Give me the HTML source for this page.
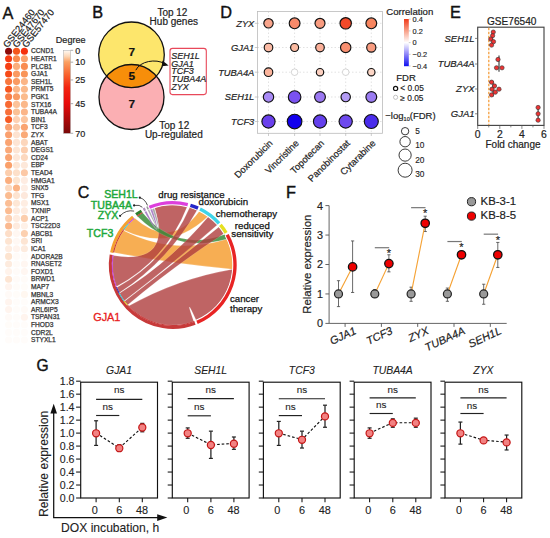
<!DOCTYPE html>
<html><head><meta charset="utf-8"><style>
html,body{margin:0;padding:0;background:#fff;}
svg{display:block;}
text{font-family:"Liberation Sans",sans-serif;}
</style></head><body>
<svg width="550" height="538" viewBox="0 0 550 538">
<rect width="550" height="538" fill="#fff"/>
<text x="2.60" y="18.60" font-size="16.3" fill="#111" stroke="#111" stroke-width="0.4">A</text>
<text x="92.30" y="18.30" font-size="16.3" fill="#111" stroke="#111" stroke-width="0.4">B</text>
<text x="220.20" y="18.10" font-size="16.3" fill="#111" stroke="#111" stroke-width="0.4">D</text>
<text x="450.10" y="18.20" font-size="16.3" fill="#111" stroke="#111" stroke-width="0.4">E</text>
<text x="77.70" y="198.10" font-size="16.0" fill="#111" stroke="#111" stroke-width="0.4">C</text>
<text x="286.10" y="197.80" font-size="16.3" fill="#111" stroke="#111" stroke-width="0.4">F</text>
<text x="36.60" y="371.30" font-size="15.6" fill="#111" stroke="#111" stroke-width="0.4">G</text>
<text transform="translate(7.40,48.20) rotate(-52)" font-size="9.3" fill="#222" stroke="#222" stroke-width="0.2">GSE24460</text>
<text transform="translate(17.00,48.20) rotate(-52)" font-size="9.3" fill="#222" stroke="#222" stroke-width="0.2">GSE47670</text>
<text transform="translate(26.60,48.20) rotate(-52)" font-size="9.3" fill="#222" stroke="#222" stroke-width="0.2">GSE57470</text>
<circle cx="8.6" cy="51.2" r="3.55" fill="#8b0a0a"/>
<circle cx="16.5" cy="51.2" r="3.55" fill="#f5561c"/>
<circle cx="24.4" cy="51.2" r="3.55" fill="#f5300e"/>
<text x="31.00" y="53.40" font-size="6.65" fill="#333" stroke="#333" stroke-width="0.25">CCND1</text>
<circle cx="8.6" cy="58.8" r="3.55" fill="#f63a12"/>
<circle cx="16.5" cy="58.8" r="3.55" fill="#f98a4e"/>
<circle cx="24.4" cy="58.8" r="3.55" fill="#fba26e"/>
<text x="31.00" y="61.00" font-size="6.65" fill="#333" stroke="#333" stroke-width="0.25">HEATR1</text>
<circle cx="8.6" cy="66.4" r="3.55" fill="#f63f14"/>
<circle cx="16.5" cy="66.4" r="3.55" fill="#fbae7c"/>
<circle cx="24.4" cy="66.4" r="3.55" fill="#f98c52"/>
<text x="31.00" y="68.60" font-size="6.65" fill="#333" stroke="#333" stroke-width="0.25">PLCB1</text>
<circle cx="8.6" cy="74.0" r="3.55" fill="#f64a18"/>
<circle cx="16.5" cy="74.0" r="3.55" fill="#fa9a62"/>
<circle cx="24.4" cy="74.0" r="3.55" fill="#f99458"/>
<text x="31.00" y="76.20" font-size="6.65" fill="#333" stroke="#333" stroke-width="0.25">GJA1</text>
<circle cx="8.6" cy="81.6" r="3.55" fill="#f8773e"/>
<circle cx="16.5" cy="81.6" r="3.55" fill="#fa9a62"/>
<circle cx="24.4" cy="81.6" r="3.55" fill="#fbb586"/>
<text x="31.00" y="83.80" font-size="6.65" fill="#333" stroke="#333" stroke-width="0.25">SEH1L</text>
<circle cx="8.6" cy="89.2" r="3.55" fill="#f6561f"/>
<circle cx="16.5" cy="89.2" r="3.55" fill="#fbb789"/>
<circle cx="24.4" cy="89.2" r="3.55" fill="#fbb98a"/>
<text x="31.00" y="91.40" font-size="6.65" fill="#333" stroke="#333" stroke-width="0.25">PRMT5</text>
<circle cx="8.6" cy="96.8" r="3.55" fill="#f87b45"/>
<circle cx="16.5" cy="96.8" r="3.55" fill="#f99c64"/>
<circle cx="24.4" cy="96.8" r="3.55" fill="#fbbb8c"/>
<text x="31.00" y="99.00" font-size="6.65" fill="#333" stroke="#333" stroke-width="0.25">PGK1</text>
<circle cx="8.6" cy="104.4" r="3.55" fill="#f86a33"/>
<circle cx="16.5" cy="104.4" r="3.55" fill="#fcc39a"/>
<circle cx="24.4" cy="104.4" r="3.55" fill="#fbb88a"/>
<text x="31.00" y="106.60" font-size="6.65" fill="#333" stroke="#333" stroke-width="0.25">STX16</text>
<circle cx="8.6" cy="112.0" r="3.55" fill="#f8703a"/>
<circle cx="16.5" cy="112.0" r="3.55" fill="#fbc195"/>
<circle cx="24.4" cy="112.0" r="3.55" fill="#fbb589"/>
<text x="31.00" y="114.20" font-size="6.65" fill="#333" stroke="#333" stroke-width="0.25">TUBA4A</text>
<circle cx="8.6" cy="119.6" r="3.55" fill="#f75a24"/>
<circle cx="16.5" cy="119.6" r="3.55" fill="#fdd2b4"/>
<circle cx="24.4" cy="119.6" r="3.55" fill="#fcc5a0"/>
<text x="31.00" y="121.80" font-size="6.65" fill="#333" stroke="#333" stroke-width="0.25">BIN1</text>
<circle cx="8.6" cy="127.2" r="3.55" fill="#faa070"/>
<circle cx="16.5" cy="127.2" r="3.55" fill="#fbcaa8"/>
<circle cx="24.4" cy="127.2" r="3.55" fill="#faa472"/>
<text x="31.00" y="129.40" font-size="6.65" fill="#333" stroke="#333" stroke-width="0.25">TCF3</text>
<circle cx="8.6" cy="134.8" r="3.55" fill="#faa06e"/>
<circle cx="16.5" cy="134.8" r="3.55" fill="#fde3d1"/>
<circle cx="24.4" cy="134.8" r="3.55" fill="#faaa79"/>
<text x="31.00" y="137.00" font-size="6.65" fill="#333" stroke="#333" stroke-width="0.25">ZYX</text>
<circle cx="8.6" cy="142.4" r="3.55" fill="#faa472"/>
<circle cx="16.5" cy="142.4" r="3.55" fill="#fde5d5"/>
<circle cx="24.4" cy="142.4" r="3.55" fill="#fcd6bc"/>
<text x="31.00" y="144.60" font-size="6.65" fill="#333" stroke="#333" stroke-width="0.25">ABAT</text>
<circle cx="8.6" cy="150.0" r="3.55" fill="#faa979"/>
<circle cx="16.5" cy="150.0" r="3.55" fill="#fde6d6"/>
<circle cx="24.4" cy="150.0" r="3.55" fill="#fcceaf"/>
<text x="31.00" y="152.20" font-size="6.65" fill="#333" stroke="#333" stroke-width="0.25">DEGS1</text>
<circle cx="8.6" cy="157.6" r="3.55" fill="#faa472"/>
<circle cx="16.5" cy="157.6" r="3.55" fill="#fde8da"/>
<circle cx="24.4" cy="157.6" r="3.55" fill="#fcd8bf"/>
<text x="31.00" y="159.80" font-size="6.65" fill="#333" stroke="#333" stroke-width="0.25">CD24</text>
<circle cx="8.6" cy="165.2" r="3.55" fill="#faa06a"/>
<circle cx="16.5" cy="165.2" r="3.55" fill="#fde6d5"/>
<circle cx="24.4" cy="165.2" r="3.55" fill="#fde8da"/>
<text x="31.00" y="167.40" font-size="6.65" fill="#333" stroke="#333" stroke-width="0.25">EBP</text>
<circle cx="8.6" cy="172.8" r="3.55" fill="#fccead"/>
<circle cx="16.5" cy="172.8" r="3.55" fill="#fde0ca"/>
<circle cx="24.4" cy="172.8" r="3.55" fill="#fcc8a6"/>
<text x="31.00" y="175.00" font-size="6.65" fill="#333" stroke="#333" stroke-width="0.25">TEAD4</text>
<circle cx="8.6" cy="180.4" r="3.55" fill="#fbae7e"/>
<circle cx="16.5" cy="180.4" r="3.55" fill="#fde5d1"/>
<circle cx="24.4" cy="180.4" r="3.55" fill="#feece2"/>
<text x="31.00" y="182.60" font-size="6.65" fill="#333" stroke="#333" stroke-width="0.25">HMGA1</text>
<circle cx="8.6" cy="188.0" r="3.55" fill="#fdd9bf"/>
<circle cx="16.5" cy="188.0" r="3.55" fill="#fbb486"/>
<circle cx="24.4" cy="188.0" r="3.55" fill="#feeee5"/>
<text x="31.00" y="190.20" font-size="6.65" fill="#333" stroke="#333" stroke-width="0.25">SNX5</text>
<circle cx="8.6" cy="195.6" r="3.55" fill="#fbbc91"/>
<circle cx="16.5" cy="195.6" r="3.55" fill="#fde4d1"/>
<circle cx="24.4" cy="195.6" r="3.55" fill="#fde8dc"/>
<text x="31.00" y="197.80" font-size="6.65" fill="#333" stroke="#333" stroke-width="0.25">TFG</text>
<circle cx="8.6" cy="203.2" r="3.55" fill="#fbbe95"/>
<circle cx="16.5" cy="203.2" r="3.55" fill="#fde7d6"/>
<circle cx="24.4" cy="203.2" r="3.55" fill="#feede2"/>
<text x="31.00" y="205.40" font-size="6.65" fill="#333" stroke="#333" stroke-width="0.25">MSX1</text>
<circle cx="8.6" cy="210.8" r="3.55" fill="#fbbc92"/>
<circle cx="16.5" cy="210.8" r="3.55" fill="#feece0"/>
<circle cx="24.4" cy="210.8" r="3.55" fill="#feece0"/>
<text x="31.00" y="213.00" font-size="6.65" fill="#333" stroke="#333" stroke-width="0.25">TXNIP</text>
<circle cx="8.6" cy="218.4" r="3.55" fill="#fccfb1"/>
<circle cx="16.5" cy="218.4" r="3.55" fill="#feece0"/>
<circle cx="24.4" cy="218.4" r="3.55" fill="#fccead"/>
<text x="31.00" y="220.60" font-size="6.65" fill="#333" stroke="#333" stroke-width="0.25">ACP1</text>
<circle cx="8.6" cy="226.0" r="3.55" fill="#fbba91"/>
<circle cx="16.5" cy="226.0" r="3.55" fill="#feebdf"/>
<circle cx="24.4" cy="226.0" r="3.55" fill="#fef1e8"/>
<text x="31.00" y="228.20" font-size="6.65" fill="#333" stroke="#333" stroke-width="0.25">TSC22D3</text>
<circle cx="8.6" cy="233.6" r="3.55" fill="#fddec8"/>
<circle cx="16.5" cy="233.6" r="3.55" fill="#fff7f2"/>
<circle cx="24.4" cy="233.6" r="3.55" fill="#fcd0b0"/>
<text x="31.00" y="235.80" font-size="6.65" fill="#333" stroke="#333" stroke-width="0.25">ABCB1</text>
<circle cx="8.6" cy="241.2" r="3.55" fill="#fde4d1"/>
<circle cx="16.5" cy="241.2" r="3.55" fill="#fff8f4"/>
<circle cx="24.4" cy="241.2" r="3.55" fill="#fde5d3"/>
<text x="31.00" y="243.40" font-size="6.65" fill="#333" stroke="#333" stroke-width="0.25">SRI</text>
<circle cx="8.6" cy="248.8" r="3.55" fill="#feede1"/>
<circle cx="16.5" cy="248.8" r="3.55" fill="#fff4ee"/>
<circle cx="24.4" cy="248.8" r="3.55" fill="#fdebde"/>
<text x="31.00" y="251.00" font-size="6.65" fill="#333" stroke="#333" stroke-width="0.25">ICA1</text>
<circle cx="8.6" cy="256.4" r="3.55" fill="#fde4d0"/>
<circle cx="16.5" cy="256.4" r="3.55" fill="#fffbf8"/>
<circle cx="24.4" cy="256.4" r="3.55" fill="#fffbf8"/>
<text x="31.00" y="258.60" font-size="6.65" fill="#333" stroke="#333" stroke-width="0.25">ADORA2B</text>
<circle cx="8.6" cy="264.0" r="3.55" fill="#fdebde"/>
<circle cx="16.5" cy="264.0" r="3.55" fill="#fffbf8"/>
<circle cx="24.4" cy="264.0" r="3.55" fill="#fff6f1"/>
<text x="31.00" y="266.20" font-size="6.65" fill="#333" stroke="#333" stroke-width="0.25">RNASET2</text>
<circle cx="8.6" cy="271.6" r="3.55" fill="#fff3eb"/>
<circle cx="16.5" cy="271.6" r="3.55" fill="#fffbf8"/>
<circle cx="24.4" cy="271.6" r="3.55" fill="#fff6f1"/>
<text x="31.00" y="273.80" font-size="6.65" fill="#333" stroke="#333" stroke-width="0.25">FOXD1</text>
<circle cx="8.6" cy="279.2" r="3.55" fill="#fde5d3"/>
<circle cx="16.5" cy="279.2" r="3.55" fill="#fffbf8"/>
<circle cx="24.4" cy="279.2" r="3.55" fill="#fffbf8"/>
<text x="31.00" y="281.40" font-size="6.65" fill="#333" stroke="#333" stroke-width="0.25">BRWD1</text>
<circle cx="8.6" cy="286.8" r="3.55" fill="#fff4ee"/>
<circle cx="16.5" cy="286.8" r="3.55" fill="#fffcf9"/>
<circle cx="24.4" cy="286.8" r="3.55" fill="#fffcf9"/>
<text x="31.00" y="289.00" font-size="6.65" fill="#333" stroke="#333" stroke-width="0.25">MAP7</text>
<circle cx="8.6" cy="294.4" r="3.55" fill="#fffaf7"/>
<circle cx="16.5" cy="294.4" r="3.55" fill="#fffcf9"/>
<circle cx="24.4" cy="294.4" r="3.55" fill="#fff7f0"/>
<text x="31.00" y="296.60" font-size="6.65" fill="#333" stroke="#333" stroke-width="0.25">MBNL3</text>
<circle cx="8.6" cy="302.0" r="3.55" fill="#fff4ee"/>
<circle cx="16.5" cy="302.0" r="3.55" fill="#fffcfa"/>
<circle cx="24.4" cy="302.0" r="3.55" fill="#fffcfa"/>
<text x="31.00" y="304.20" font-size="6.65" fill="#333" stroke="#333" stroke-width="0.25">ARMCX3</text>
<circle cx="8.6" cy="309.6" r="3.55" fill="#fff4ee"/>
<circle cx="16.5" cy="309.6" r="3.55" fill="#fffcfa"/>
<circle cx="24.4" cy="309.6" r="3.55" fill="#fffaf7"/>
<text x="31.00" y="311.80" font-size="6.65" fill="#333" stroke="#333" stroke-width="0.25">ARL6IP5</text>
<circle cx="8.6" cy="317.2" r="3.55" fill="#fffaf7"/>
<circle cx="16.5" cy="317.2" r="3.55" fill="#fffcfa"/>
<circle cx="24.4" cy="317.2" r="3.55" fill="#fff4ee"/>
<text x="31.00" y="319.40" font-size="6.65" fill="#333" stroke="#333" stroke-width="0.25">TSPAN31</text>
<circle cx="8.6" cy="324.8" r="3.55" fill="#fffcf9"/>
<circle cx="16.5" cy="324.8" r="3.55" fill="#fffcfa"/>
<circle cx="24.4" cy="324.8" r="3.55" fill="#fffcfa"/>
<text x="31.00" y="327.00" font-size="6.65" fill="#333" stroke="#333" stroke-width="0.25">FHOD3</text>
<circle cx="8.6" cy="332.4" r="3.55" fill="#fffcfa"/>
<circle cx="16.5" cy="332.4" r="3.55" fill="#fffcfa"/>
<circle cx="24.4" cy="332.4" r="3.55" fill="#fffcfa"/>
<text x="31.00" y="334.60" font-size="6.65" fill="#333" stroke="#333" stroke-width="0.25">CDR2L</text>
<circle cx="8.6" cy="340.0" r="3.55" fill="#fffcfa"/>
<circle cx="16.5" cy="340.0" r="3.55" fill="#fffcfa"/>
<circle cx="24.4" cy="340.0" r="3.55" fill="#fffcfa"/>
<text x="31.00" y="342.20" font-size="6.65" fill="#333" stroke="#333" stroke-width="0.25">STYXL1</text>
<defs><linearGradient id="gdeg" x1="0" y1="0" x2="0" y2="1"><stop offset="0" stop-color="#fffaf4"/><stop offset="0.07" stop-color="#fdd8b8"/><stop offset="0.14" stop-color="#fba062"/><stop offset="0.3" stop-color="#f8602c"/><stop offset="0.45" stop-color="#f22410"/><stop offset="0.64" stop-color="#e80a0a"/><stop offset="1" stop-color="#780808"/></linearGradient><linearGradient id="gcor" x1="0" y1="0" x2="0" y2="1"><stop offset="0" stop-color="#f03a1a"/><stop offset="0.25" stop-color="#f8a088"/><stop offset="0.5" stop-color="#ffffff"/><stop offset="0.75" stop-color="#8c84f8"/><stop offset="1" stop-color="#1010f0"/></linearGradient><clipPath id="ctop"><circle cx="131.5" cy="54.8" r="32.8"/></clipPath></defs>
<text x="55.80" y="43.10" font-size="9.1" fill="#222" stroke="#222" stroke-width="0.2">Degree</text>
<rect x="63.5" y="50.3" width="7" height="83" fill="url(#gdeg)" stroke="#aaa" stroke-width="0.5"/>
<line x1="70.50" y1="50.30" x2="73.20" y2="50.30" stroke="#888" stroke-width="0.7" />
<text x="75.30" y="53.50" font-size="9" fill="#222" stroke="#222" stroke-width="0.2">0</text>
<line x1="70.50" y1="62.16" x2="73.20" y2="62.16" stroke="#888" stroke-width="0.7" />
<text x="75.30" y="65.36" font-size="9" fill="#222" stroke="#222" stroke-width="0.2">10</text>
<line x1="70.50" y1="79.94" x2="73.20" y2="79.94" stroke="#888" stroke-width="0.7" />
<text x="75.30" y="83.14" font-size="9" fill="#222" stroke="#222" stroke-width="0.2">25</text>
<line x1="70.50" y1="103.66" x2="73.20" y2="103.66" stroke="#888" stroke-width="0.7" />
<text x="75.30" y="106.86" font-size="9" fill="#222" stroke="#222" stroke-width="0.2">45</text>
<line x1="70.50" y1="133.30" x2="73.20" y2="133.30" stroke="#888" stroke-width="0.7" />
<text x="75.30" y="136.50" font-size="9" fill="#222" stroke="#222" stroke-width="0.2">70</text>
<circle cx="131.5" cy="54.8" r="32.8" fill="#fde66c"/>
<circle cx="131.5" cy="97" r="32.5" fill="#fbafb3"/>
<circle cx="131.5" cy="97" r="32.5" fill="#f78e0a" clip-path="url(#ctop)"/>
<circle cx="131.5" cy="54.8" r="32.8" fill="none" stroke="#111" stroke-width="1.3"/>
<circle cx="131.5" cy="97" r="32.5" fill="none" stroke="#111" stroke-width="1.3"/>
<text x="131.80" y="55.90" font-size="11.8" fill="#111" stroke="#111" stroke-width="0.2" text-anchor="middle" font-weight="bold">7</text>
<text x="131.80" y="80.20" font-size="11.8" fill="#111" stroke="#111" stroke-width="0.2" text-anchor="middle" font-weight="bold">5</text>
<text x="131.80" y="108.40" font-size="11.8" fill="#111" stroke="#111" stroke-width="0.2" text-anchor="middle" font-weight="bold">7</text>
<text x="172.40" y="15.70" font-size="10.0" fill="#222" stroke="#222" stroke-width="0.2" text-anchor="middle">Top 12</text>
<text x="173.80" y="24.75" font-size="10.0" fill="#222" stroke="#222" stroke-width="0.2" text-anchor="middle">Hub genes</text>
<text x="174.20" y="129.00" font-size="10.0" fill="#222" stroke="#222" stroke-width="0.2" text-anchor="middle">Top 12</text>
<text x="173.80" y="137.60" font-size="10.0" fill="#222" stroke="#222" stroke-width="0.2" text-anchor="middle">Up-regulated</text>
<rect x="170" y="48.4" width="36.3" height="46.2" rx="2.5" fill="#fff" stroke="#e8485a" stroke-width="1.1"/>
<text x="171.30" y="58.60" font-size="9.0" fill="#222" stroke="#222" stroke-width="0.2" font-style="italic">SEH1L</text>
<text x="171.30" y="66.50" font-size="9.0" fill="#222" stroke="#222" stroke-width="0.2" font-style="italic">GJA1</text>
<text x="171.30" y="74.40" font-size="9.0" fill="#222" stroke="#222" stroke-width="0.2" font-style="italic">TCF3</text>
<text x="171.30" y="82.30" font-size="9.0" fill="#222" stroke="#222" stroke-width="0.2" font-style="italic">TUBA4A</text>
<text x="171.30" y="90.20" font-size="9.0" fill="#222" stroke="#222" stroke-width="0.2" font-style="italic">ZYX</text>
<path d="M135.8 70.2 C 140 61, 156 58.5, 164.5 63.6" fill="none" stroke="#111" stroke-width="1.0"/>
<path d="M168.6 65.6 L162.4 60.6 L161.8 66.2 Z" fill="#111"/>
<line x1="268.50" y1="11.50" x2="268.50" y2="133.30" stroke="#cfcfcf" stroke-width="0.6" stroke-dasharray="1.5,2"/>
<line x1="294.60" y1="11.50" x2="294.60" y2="133.30" stroke="#cfcfcf" stroke-width="0.6" stroke-dasharray="1.5,2"/>
<line x1="320.00" y1="11.50" x2="320.00" y2="133.30" stroke="#cfcfcf" stroke-width="0.6" stroke-dasharray="1.5,2"/>
<line x1="345.70" y1="11.50" x2="345.70" y2="133.30" stroke="#cfcfcf" stroke-width="0.6" stroke-dasharray="1.5,2"/>
<line x1="371.30" y1="11.50" x2="371.30" y2="133.30" stroke="#cfcfcf" stroke-width="0.6" stroke-dasharray="1.5,2"/>
<line x1="257.50" y1="23.30" x2="382.40" y2="23.30" stroke="#cfcfcf" stroke-width="0.6" stroke-dasharray="1.5,2"/>
<line x1="257.50" y1="47.50" x2="382.40" y2="47.50" stroke="#cfcfcf" stroke-width="0.6" stroke-dasharray="1.5,2"/>
<line x1="257.50" y1="72.20" x2="382.40" y2="72.20" stroke="#cfcfcf" stroke-width="0.6" stroke-dasharray="1.5,2"/>
<line x1="257.50" y1="97.00" x2="382.40" y2="97.00" stroke="#cfcfcf" stroke-width="0.6" stroke-dasharray="1.5,2"/>
<line x1="257.50" y1="121.50" x2="382.40" y2="121.50" stroke="#cfcfcf" stroke-width="0.6" stroke-dasharray="1.5,2"/>
<rect x="257.5" y="11.5" width="124.9" height="121.8" fill="none" stroke="#bbb" stroke-width="0.8"/>
<line x1="254.80" y1="23.30" x2="257.50" y2="23.30" stroke="#aaa" stroke-width="0.6" />
<text x="254.30" y="26.60" font-size="9.3" fill="#222" stroke="#222" stroke-width="0.2" text-anchor="end" font-style="italic">ZYX</text>
<line x1="254.80" y1="47.50" x2="257.50" y2="47.50" stroke="#aaa" stroke-width="0.6" />
<text x="254.30" y="50.80" font-size="9.3" fill="#222" stroke="#222" stroke-width="0.2" text-anchor="end" font-style="italic">GJA1</text>
<line x1="254.80" y1="72.20" x2="257.50" y2="72.20" stroke="#aaa" stroke-width="0.6" />
<text x="254.30" y="75.50" font-size="9.3" fill="#222" stroke="#222" stroke-width="0.2" text-anchor="end" font-style="italic">TUBA4A</text>
<line x1="254.80" y1="97.00" x2="257.50" y2="97.00" stroke="#aaa" stroke-width="0.6" />
<text x="254.30" y="100.30" font-size="9.3" fill="#222" stroke="#222" stroke-width="0.2" text-anchor="end" font-style="italic">SEH1L</text>
<line x1="254.80" y1="121.50" x2="257.50" y2="121.50" stroke="#aaa" stroke-width="0.6" />
<text x="254.30" y="124.80" font-size="9.3" fill="#222" stroke="#222" stroke-width="0.2" text-anchor="end" font-style="italic">TCF3</text>
<circle cx="268.5" cy="23.3" r="4.7" fill="#f9a58c" stroke="#111" stroke-width="1.15"/>
<circle cx="294.6" cy="23.3" r="5.4" fill="#f88a6a" stroke="#111" stroke-width="1.15"/>
<circle cx="320" cy="23.3" r="5.0" fill="#f99c80" stroke="#111" stroke-width="1.15"/>
<circle cx="345.7" cy="23.3" r="5.7" fill="#f24a2a" stroke="#111" stroke-width="1.15"/>
<circle cx="371.3" cy="23.3" r="5.4" fill="#f7855f" stroke="#111" stroke-width="1.15"/>
<circle cx="268.5" cy="47.5" r="4.3" fill="#fbbba5" stroke="#111" stroke-width="1.15"/>
<circle cx="294.6" cy="47.5" r="4.0" fill="#fbbaa0" stroke="#111" stroke-width="1.15"/>
<circle cx="320" cy="47.5" r="4.3" fill="#fbb099" stroke="#111" stroke-width="1.15"/>
<circle cx="345.7" cy="47.5" r="5.2" fill="#f88f70" stroke="#111" stroke-width="1.15"/>
<circle cx="371.3" cy="47.5" r="4.6" fill="#f99c80" stroke="#111" stroke-width="1.15"/>
<circle cx="268.5" cy="72.2" r="4.3" fill="#fbb49c" stroke="#111" stroke-width="1.15"/>
<circle cx="294.6" cy="72.2" r="3.3" fill="#fff" stroke="#ccc" stroke-width="0.8"/>
<circle cx="320" cy="72.2" r="3.7" fill="#fcd0c0" stroke="#111" stroke-width="1.15"/>
<circle cx="345.7" cy="72.2" r="3.3" fill="#fff" stroke="#ccc" stroke-width="0.8"/>
<circle cx="371.3" cy="72.2" r="3.7" fill="#fcd6c6" stroke="#111" stroke-width="1.15"/>
<circle cx="268.5" cy="97" r="5.2" fill="#a88af5" stroke="#111" stroke-width="1.15"/>
<circle cx="294.6" cy="97" r="6.3" fill="#7a52f0" stroke="#111" stroke-width="1.15"/>
<circle cx="320" cy="97" r="5.4" fill="#9b78f2" stroke="#111" stroke-width="1.15"/>
<circle cx="345.7" cy="97" r="4.7" fill="#b49cf5" stroke="#111" stroke-width="1.15"/>
<circle cx="371.3" cy="97" r="5.4" fill="#9b7cf2" stroke="#111" stroke-width="1.15"/>
<circle cx="268.5" cy="121.5" r="6.6" fill="#6a40ec" stroke="#111" stroke-width="1.15"/>
<circle cx="294.6" cy="121.5" r="7.3" fill="#1200ee" stroke="#111" stroke-width="1.15"/>
<circle cx="320" cy="121.5" r="6.6" fill="#6440ec" stroke="#111" stroke-width="1.15"/>
<circle cx="345.7" cy="121.5" r="6.6" fill="#6e4aee" stroke="#111" stroke-width="1.15"/>
<circle cx="371.3" cy="121.5" r="7.0" fill="#4a2cec" stroke="#111" stroke-width="1.15"/>
<line x1="268.50" y1="133.30" x2="268.50" y2="136.00" stroke="#aaa" stroke-width="0.6" />
<text transform="translate(273.30,143.80) rotate(-45)" font-size="9.4" fill="#222" stroke="#222" stroke-width="0.2" text-anchor="end">Doxorubicin</text>
<line x1="294.60" y1="133.30" x2="294.60" y2="136.00" stroke="#aaa" stroke-width="0.6" />
<text transform="translate(299.40,143.80) rotate(-45)" font-size="9.4" fill="#222" stroke="#222" stroke-width="0.2" text-anchor="end">Vincristine</text>
<line x1="320.00" y1="133.30" x2="320.00" y2="136.00" stroke="#aaa" stroke-width="0.6" />
<text transform="translate(324.80,143.80) rotate(-45)" font-size="9.4" fill="#222" stroke="#222" stroke-width="0.2" text-anchor="end">Topotecan</text>
<line x1="345.70" y1="133.30" x2="345.70" y2="136.00" stroke="#aaa" stroke-width="0.6" />
<text transform="translate(350.50,143.80) rotate(-45)" font-size="9.4" fill="#222" stroke="#222" stroke-width="0.2" text-anchor="end">Panobinostat</text>
<line x1="371.30" y1="133.30" x2="371.30" y2="136.00" stroke="#aaa" stroke-width="0.6" />
<text transform="translate(376.10,143.80) rotate(-45)" font-size="9.4" fill="#222" stroke="#222" stroke-width="0.2" text-anchor="end">Cytarabine</text>
<text x="386.30" y="14.90" font-size="9.6" fill="#222" stroke="#222" stroke-width="0.2">Correlation</text>
<rect x="404" y="19" width="4.8" height="47.2" fill="url(#gcor)"/>
<line x1="408.80" y1="19.20" x2="410.60" y2="19.20" stroke="#999" stroke-width="0.5" />
<text x="412.60" y="21.80" font-size="7.4" fill="#222" stroke="#222" stroke-width="0.15">0.4</text>
<line x1="408.80" y1="30.90" x2="410.60" y2="30.90" stroke="#999" stroke-width="0.5" />
<text x="412.60" y="33.50" font-size="7.4" fill="#222" stroke="#222" stroke-width="0.15">0.2</text>
<line x1="408.80" y1="42.60" x2="410.60" y2="42.60" stroke="#999" stroke-width="0.5" />
<text x="412.60" y="45.20" font-size="7.4" fill="#222" stroke="#222" stroke-width="0.15">0</text>
<line x1="408.80" y1="54.30" x2="410.60" y2="54.30" stroke="#999" stroke-width="0.5" />
<text x="412.60" y="56.90" font-size="7.4" fill="#222" stroke="#222" stroke-width="0.15">−0.2</text>
<line x1="408.80" y1="66.00" x2="410.60" y2="66.00" stroke="#999" stroke-width="0.5" />
<text x="412.60" y="68.60" font-size="7.4" fill="#222" stroke="#222" stroke-width="0.15">−0.4</text>
<text x="396.30" y="80.90" font-size="9.5" fill="#222" stroke="#222" stroke-width="0.2">FDR</text>
<circle cx="395.6" cy="88.4" r="2.1" fill="none" stroke="#111" stroke-width="1.2"/>
<text x="400.30" y="91.30" font-size="8.4" fill="#222" stroke="#222" stroke-width="0.15">&lt; 0.05</text>
<circle cx="395.6" cy="97.3" r="2.1" fill="none" stroke="#aaa" stroke-width="0.7"/>
<text x="400.30" y="100.60" font-size="8.4" fill="#222" stroke="#222" stroke-width="0.15">≥ 0.05</text>
<text x="385.30" y="119.00" font-size="9.5" fill="#222" stroke="#222" stroke-width="0.2">−log<tspan font-size="5.6" dy="2">10</tspan><tspan dy="-2">(FDR)</tspan></text>
<circle cx="405.1" cy="131.2" r="3.7" fill="none" stroke="#222" stroke-width="0.9"/>
<circle cx="405.1" cy="141.7" r="5.2" fill="none" stroke="#222" stroke-width="0.9"/>
<circle cx="405.1" cy="155.1" r="6.1" fill="none" stroke="#222" stroke-width="0.9"/>
<circle cx="405.1" cy="170.2" r="7.0" fill="none" stroke="#222" stroke-width="0.9"/>
<text x="415.20" y="133.60" font-size="8.3" fill="#222" stroke="#222" stroke-width="0.12">5</text>
<text x="415.20" y="147.60" font-size="8.3" fill="#222" stroke="#222" stroke-width="0.12">10</text>
<text x="415.20" y="162.60" font-size="8.3" fill="#222" stroke="#222" stroke-width="0.12">20</text>
<text x="415.20" y="176.50" font-size="8.3" fill="#222" stroke="#222" stroke-width="0.12">30</text>
<text x="511.70" y="25.30" font-size="10.1" fill="#222" stroke="#222" stroke-width="0.2" text-anchor="middle">GSE76540</text>
<rect x="477.7" y="27.2" width="66.3" height="98.2" fill="none" stroke="#444" stroke-width="1.15"/>
<line x1="488.80" y1="27.80" x2="488.80" y2="125.00" stroke="#f5a040" stroke-width="1.3" stroke-dasharray="2.4,1.6"/>
<line x1="475.00" y1="38.40" x2="477.70" y2="38.40" stroke="#555" stroke-width="0.7" />
<text x="474.60" y="41.80" font-size="9.5" fill="#222" stroke="#222" stroke-width="0.2" text-anchor="end" font-style="italic">SEH1L</text>
<line x1="475.00" y1="64.00" x2="477.70" y2="64.00" stroke="#555" stroke-width="0.7" />
<text x="474.60" y="67.40" font-size="9.5" fill="#222" stroke="#222" stroke-width="0.2" text-anchor="end" font-style="italic">TUBA4A</text>
<line x1="475.00" y1="89.00" x2="477.70" y2="89.00" stroke="#555" stroke-width="0.7" />
<text x="474.60" y="92.40" font-size="9.5" fill="#222" stroke="#222" stroke-width="0.2" text-anchor="end" font-style="italic">ZYX</text>
<line x1="475.00" y1="113.80" x2="477.70" y2="113.80" stroke="#555" stroke-width="0.7" />
<text x="474.60" y="117.20" font-size="9.5" fill="#222" stroke="#222" stroke-width="0.2" text-anchor="end" font-style="italic">GJA1</text>
<line x1="477.70" y1="125.40" x2="477.70" y2="128.90" stroke="#555" stroke-width="0.7" />
<text x="477.70" y="137.60" font-size="10.4" fill="#222" stroke="#222" stroke-width="0.2" text-anchor="middle">0</text>
<line x1="488.75" y1="125.40" x2="488.75" y2="127.40" stroke="#555" stroke-width="0.7" />
<line x1="499.80" y1="125.40" x2="499.80" y2="128.90" stroke="#555" stroke-width="0.7" />
<text x="499.80" y="137.60" font-size="10.4" fill="#222" stroke="#222" stroke-width="0.2" text-anchor="middle">2</text>
<line x1="510.85" y1="125.40" x2="510.85" y2="127.40" stroke="#555" stroke-width="0.7" />
<line x1="521.90" y1="125.40" x2="521.90" y2="128.90" stroke="#555" stroke-width="0.7" />
<text x="521.90" y="137.60" font-size="10.4" fill="#222" stroke="#222" stroke-width="0.2" text-anchor="middle">4</text>
<line x1="532.95" y1="125.40" x2="532.95" y2="127.40" stroke="#555" stroke-width="0.7" />
<line x1="544.00" y1="125.40" x2="544.00" y2="128.90" stroke="#555" stroke-width="0.7" />
<text x="544.00" y="137.60" font-size="10.4" fill="#222" stroke="#222" stroke-width="0.2" text-anchor="middle">6</text>
<text x="513.00" y="148.00" font-size="10.0" fill="#222" stroke="#222" stroke-width="0.2" text-anchor="middle">Fold change</text>
<line x1="492.30" y1="31.00" x2="492.30" y2="46.00" stroke="#333" stroke-width="1.1" />
<circle cx="493.3" cy="32.1" r="2.15" fill="#ec3434" stroke="#333" stroke-width="0.6"/>
<circle cx="492.6" cy="35.7" r="2.15" fill="#ec3434" stroke="#333" stroke-width="0.6"/>
<circle cx="490.8" cy="39.1" r="2.15" fill="#ec3434" stroke="#333" stroke-width="0.6"/>
<circle cx="493.5" cy="41.7" r="2.15" fill="#ec3434" stroke="#333" stroke-width="0.6"/>
<circle cx="491.6" cy="45.1" r="2.15" fill="#ec3434" stroke="#333" stroke-width="0.6"/>
<line x1="499.00" y1="55.50" x2="499.00" y2="71.80" stroke="#333" stroke-width="1.1" />
<circle cx="498" cy="59.5" r="2.15" fill="#ec3434" stroke="#333" stroke-width="0.6"/>
<circle cx="496.5" cy="67.8" r="2.15" fill="#ec3434" stroke="#333" stroke-width="0.6"/>
<circle cx="502" cy="67.8" r="2.15" fill="#ec3434" stroke="#333" stroke-width="0.6"/>
<line x1="493.00" y1="81.00" x2="493.00" y2="96.40" stroke="#333" stroke-width="1.1" />
<circle cx="491.6" cy="82.2" r="2.15" fill="#ec3434" stroke="#333" stroke-width="0.6"/>
<circle cx="494.5" cy="86" r="2.15" fill="#ec3434" stroke="#333" stroke-width="0.6"/>
<circle cx="492" cy="89.2" r="2.15" fill="#ec3434" stroke="#333" stroke-width="0.6"/>
<circle cx="499" cy="89.2" r="2.15" fill="#ec3434" stroke="#333" stroke-width="0.6"/>
<circle cx="495.3" cy="92.2" r="2.15" fill="#ec3434" stroke="#333" stroke-width="0.6"/>
<circle cx="491.6" cy="94.9" r="2.15" fill="#ec3434" stroke="#333" stroke-width="0.6"/>
<line x1="538.10" y1="107.00" x2="538.10" y2="120.50" stroke="#333" stroke-width="1.1" />
<circle cx="538.1" cy="107.5" r="2.15" fill="#ec3434" stroke="#333" stroke-width="0.6"/>
<circle cx="538.1" cy="113.8" r="2.15" fill="#ec3434" stroke="#333" stroke-width="0.6"/>
<circle cx="538.1" cy="120.2" r="2.15" fill="#ec3434" stroke="#333" stroke-width="0.6"/>
<path d="M113.82 252.48 A60.2 60.2 0 0 1 123.39 230.47 Q173.45 255.93 227.04 239.08 A60.2 60.2 0 0 1 232.75 269.20 Q172.88 263.75 113.82 252.48 Z" fill="#f6a33c" opacity="0.88" stroke="#fff" stroke-width="0.3" stroke-opacity="0.55"/>
<path d="M123.69 230.04 A60.2 60.2 0 0 1 134.81 218.22 Q171.05 249.90 199.56 211.12 A60.2 60.2 0 0 1 208.08 216.30 Q170.66 252.45 123.69 230.04 Z" fill="#f6a33c" opacity="0.88" stroke="#fff" stroke-width="0.3" stroke-opacity="0.55"/>
<path d="M193.78 321.39 A60.2 60.2 0 0 1 128.67 306.06 Q177.51 278.58 232.75 269.20 A60.2 60.2 0 0 1 196.22 320.41 Q183.85 292.95 193.78 321.39 Z" fill="#b03e3e" opacity="0.8" stroke="#fff" stroke-width="0.3" stroke-opacity="0.55"/>
<path d="M116.50 286.57 A60.2 60.2 0 0 1 113.24 255.58 Q172.70 265.00 154.60 207.59 A60.2 60.2 0 0 1 187.26 206.59 Q166.45 259.47 116.50 286.57 Z" fill="#b03e3e" opacity="0.8" stroke="#fff" stroke-width="0.3" stroke-opacity="0.55"/>
<path d="M137.32 216.30 A60.2 60.2 0 0 1 142.60 212.87 Q175.97 252.60 224.57 234.45 A60.2 60.2 0 0 1 227.04 239.08 Q175.54 253.81 137.32 216.30 Z" fill="#3b8e3b" opacity="0.85" stroke="#fff" stroke-width="0.3" stroke-opacity="0.55"/>
<path d="M144.44 211.85 A60.2 60.2 0 0 1 146.31 210.89 Q165.36 248.51 150.15 209.18 A60.2 60.2 0 0 1 152.11 208.43 Q165.37 248.54 144.44 211.85 Z" fill="#a070c0" opacity="0.88" stroke="#fff" stroke-width="0.3" stroke-opacity="0.55"/>
<path d="M147.74 210.22 A60.2 60.2 0 0 1 149.18 209.59 Q166.08 248.20 152.11 208.43 A60.2 60.2 0 0 1 154.10 207.75 Q166.16 248.20 147.74 210.22 Z" fill="#a0a0a0" opacity="0.88" stroke="#fff" stroke-width="0.3" stroke-opacity="0.55"/>
<path d="M127.61 304.89 A60.2 60.2 0 0 1 124.62 301.23 Q172.46 264.69 219.15 226.71 A60.2 60.2 0 0 1 224.03 233.55 Q173.64 266.27 127.61 304.89 Z" fill="#b03e3e" opacity="0.8" stroke="#fff" stroke-width="0.3" stroke-opacity="0.55"/>
<path d="M124.31 300.81 A60.2 60.2 0 0 1 119.55 293.26 Q170.10 261.98 208.51 216.61 A60.2 60.2 0 0 1 217.44 224.72 Q172.15 264.33 124.31 300.81 Z" fill="#b03e3e" opacity="0.8" stroke="#fff" stroke-width="0.3" stroke-opacity="0.55"/>
<path d="M119.30 292.80 A60.2 60.2 0 0 1 116.88 287.55 Q166.89 259.72 189.80 207.28 A60.2 60.2 0 0 1 197.19 210.00 Q168.36 260.92 119.30 292.80 Z" fill="#b03e3e" opacity="0.8" stroke="#fff" stroke-width="0.3" stroke-opacity="0.55"/>
<path d="M150.00 208.81 A60.6 60.6 0 0 1 187.36 206.20 L187.12 207.17 A59.6 59.6 0 0 0 150.37 209.74 Z" fill="#fff" opacity="1"/>
<path d="M148.73 205.66 A64.0 64.0 0 0 1 188.18 202.90 L187.36 206.20 A60.6 60.6 0 0 0 150.00 208.81 Z" fill="#dd3fdd" opacity="1"/>
<path d="M189.91 206.90 A60.6 60.6 0 0 1 197.35 209.64 L196.94 210.55 A59.6 59.6 0 0 0 189.63 207.85 Z" fill="#fff" opacity="1"/>
<path d="M190.88 203.64 A64.0 64.0 0 0 1 198.73 206.53 L197.35 209.64 A60.6 60.6 0 0 0 189.91 206.90 Z" fill="#2424c8" opacity="1"/>
<path d="M199.27 210.53 A60.6 60.6 0 0 1 217.73 224.45 L216.99 225.12 A59.6 59.6 0 0 0 198.83 211.43 Z" fill="#fff" opacity="1"/>
<path d="M200.76 207.48 A64.0 64.0 0 0 1 220.26 222.18 L217.73 224.45 A60.6 60.6 0 0 0 199.27 210.53 Z" fill="#3fd4e8" opacity="1"/>
<path d="M219.12 226.05 A60.6 60.6 0 0 1 224.64 233.79 L223.79 234.30 A59.6 59.6 0 0 0 218.36 226.69 Z" fill="#fff" opacity="1"/>
<path d="M221.73 223.86 A64.0 64.0 0 0 1 227.56 232.04 L224.64 233.79 A60.6 60.6 0 0 0 219.12 226.05 Z" fill="#e6e020" opacity="1"/>
<path d="M225.70 235.62 A60.6 60.6 0 0 1 196.38 320.78 L195.99 319.86 A59.6 59.6 0 0 0 224.83 236.11 Z" fill="#fff" opacity="1"/>
<path d="M228.68 233.97 A64.0 64.0 0 0 1 197.71 323.91 L196.38 320.78 A60.6 60.6 0 0 0 225.70 235.62 Z" fill="#e82424" opacity="1"/>
<path d="M195.60 324.66 A63.9 63.9 0 0 1 109.68 254.45 L112.73 254.97 A60.8 60.8 0 0 0 194.49 321.76 Z" fill="#c73a3a" opacity="1"/>
<path d="M110.08 252.26 A63.9 63.9 0 0 1 132.05 215.69 L134.03 218.09 A60.8 60.8 0 0 0 113.12 252.88 Z" fill="#f5a030" opacity="1"/>
<path d="M135.14 213.30 A63.9 63.9 0 0 1 140.75 209.66 L142.30 212.35 A60.8 60.8 0 0 0 136.96 215.81 Z" fill="#2e7d2e" opacity="1"/>
<path d="M142.70 208.58 A63.9 63.9 0 0 1 144.69 207.57 L146.05 210.35 A60.8 60.8 0 0 0 144.16 211.32 Z" fill="#b090c0" opacity="1"/>
<path d="M146.20 206.85 A63.9 63.9 0 0 1 147.73 206.18 L148.94 209.03 A60.8 60.8 0 0 0 147.49 209.67 Z" fill="#999" opacity="1"/>
<path d="M194.56 321.95 A61.0 61.0 0 0 1 127.01 305.42 L127.76 304.76 A60.0 60.0 0 0 0 194.20 321.01 Z" fill="#c73a3a" opacity="1"/>
<path d="M115.75 286.86 A61.0 61.0 0 0 1 112.54 254.93 L113.52 255.10 A60.0 60.0 0 0 0 116.69 286.50 Z" fill="#c040d8" opacity="1"/>
<path d="M118.59 293.17 A61.0 61.0 0 0 1 115.94 287.36 L116.87 286.99 A60.0 60.0 0 0 0 119.48 292.70 Z" fill="#2a2ac0" opacity="1"/>
<path d="M123.66 301.28 A61.0 61.0 0 0 1 118.59 293.17 L119.48 292.70 A60.0 60.0 0 0 0 124.47 300.69 Z" fill="#30c0d0" opacity="1"/>
<path d="M127.01 305.42 A61.0 61.0 0 0 1 123.66 301.28 L124.47 300.69 A60.0 60.0 0 0 0 127.76 304.76 Z" fill="#d8d020" opacity="1"/>
<path d="M113.03 252.32 A61.0 61.0 0 0 1 123.35 229.15 L124.16 229.73 A60.0 60.0 0 0 0 114.01 252.53 Z" fill="#c83030" opacity="1"/>
<path d="M123.35 229.15 A61.0 61.0 0 0 1 128.09 223.40 L128.82 224.08 A60.0 60.0 0 0 0 124.16 229.73 Z" fill="#30c0d0" opacity="1"/>
<path d="M128.09 223.40 A61.0 61.0 0 0 1 133.90 217.93 L134.54 218.70 A60.0 60.0 0 0 0 128.82 224.08 Z" fill="#c040d8" opacity="1"/>
<path d="M136.85 215.65 A61.0 61.0 0 0 1 142.20 212.17 L142.70 213.04 A60.0 60.0 0 0 0 137.43 216.46 Z" fill="#c83030" opacity="1"/>
<text x="104.20" y="198.00" font-size="10.6" fill="#1ca83a" stroke="#1ca83a" stroke-width="0.45">SEH1L</text>
<text x="90.80" y="208.50" font-size="10.6" fill="#1ca83a" stroke="#1ca83a" stroke-width="0.45">TUBA4A</text>
<text x="97.80" y="219.40" font-size="10.6" fill="#1ca83a" stroke="#1ca83a" stroke-width="0.45">ZYX</text>
<text x="86.80" y="237.40" font-size="10.6" fill="#1ca83a" stroke="#1ca83a" stroke-width="0.45">TCF3</text>
<text x="93.20" y="320.60" font-size="10.9" fill="#e82020" stroke="#e82020" stroke-width="0.3">GJA1</text>
<path d="M139.8 197.7 Q145 199 147.5 205.4" fill="none" stroke="#222" stroke-width="0.8"/>
<circle cx="139.8" cy="197.7" r="1.1" fill="#222"/>
<path d="M134.1 205.4 Q140 204.5 142.4 207.3" fill="none" stroke="#222" stroke-width="0.8"/>
<circle cx="134.1" cy="205.4" r="1.1" fill="#222"/>
<path d="M120.1 215.8 Q126 209.5 134.1 211.1" fill="none" stroke="#222" stroke-width="0.8"/>
<circle cx="120.1" cy="215.8" r="1.1" fill="#222"/>
<text x="158.30" y="197.70" font-size="9.7" fill="#111" stroke="#111" stroke-width="0.25">drug resistance</text>
<text x="198.50" y="204.80" font-size="9.7" fill="#111" stroke="#111" stroke-width="0.25">doxorubicin</text>
<text x="215.70" y="217.00" font-size="9.7" fill="#111" stroke="#111" stroke-width="0.25">chemotherapy</text>
<text x="230.00" y="302.40" font-size="9.7" fill="#111" stroke="#111" stroke-width="0.25">cancer</text>
<text x="230.00" y="311.80" font-size="9.7" fill="#111" stroke="#111" stroke-width="0.25">therapy</text>
<text x="252.30" y="228.60" font-size="9.7" fill="#111" stroke="#111" stroke-width="0.25" text-anchor="middle">reduced</text>
<text x="252.30" y="236.60" font-size="9.7" fill="#111" stroke="#111" stroke-width="0.25" text-anchor="middle">sensitivity</text>
<line x1="329.10" y1="205.60" x2="329.10" y2="323.40" stroke="#555" stroke-width="0.9" />
<line x1="329.10" y1="323.40" x2="506.70" y2="323.40" stroke="#555" stroke-width="0.9" />
<line x1="325.40" y1="323.40" x2="329.10" y2="323.40" stroke="#555" stroke-width="0.9" />
<text x="323.00" y="327.30" font-size="10.8" fill="#222" stroke="#222" stroke-width="0.18" text-anchor="end">0</text>
<line x1="325.40" y1="293.95" x2="329.10" y2="293.95" stroke="#555" stroke-width="0.9" />
<text x="323.00" y="297.85" font-size="10.8" fill="#222" stroke="#222" stroke-width="0.18" text-anchor="end">1</text>
<line x1="325.40" y1="264.50" x2="329.10" y2="264.50" stroke="#555" stroke-width="0.9" />
<text x="323.00" y="268.40" font-size="10.8" fill="#222" stroke="#222" stroke-width="0.18" text-anchor="end">2</text>
<line x1="325.40" y1="235.05" x2="329.10" y2="235.05" stroke="#555" stroke-width="0.9" />
<text x="323.00" y="238.95" font-size="10.8" fill="#222" stroke="#222" stroke-width="0.18" text-anchor="end">3</text>
<line x1="325.40" y1="205.60" x2="329.10" y2="205.60" stroke="#555" stroke-width="0.9" />
<text x="323.00" y="209.50" font-size="10.8" fill="#222" stroke="#222" stroke-width="0.18" text-anchor="end">4</text>
<text transform="translate(311.00,264.20) rotate(-90)" font-size="11.35" fill="#222" stroke="#222" stroke-width="0.18" text-anchor="middle">Relative expression</text>
<line x1="345.10" y1="323.40" x2="345.10" y2="326.90" stroke="#555" stroke-width="0.9" />
<line x1="338.50" y1="280.70" x2="338.50" y2="306.61" stroke="#444" stroke-width="0.8" />
<line x1="336.90" y1="306.61" x2="340.10" y2="306.61" stroke="#444" stroke-width="0.8" />
<line x1="336.90" y1="280.70" x2="340.10" y2="280.70" stroke="#444" stroke-width="0.8" />
<line x1="352.60" y1="240.94" x2="352.60" y2="292.48" stroke="#444" stroke-width="0.8" />
<line x1="351.00" y1="292.48" x2="354.20" y2="292.48" stroke="#444" stroke-width="0.8" />
<line x1="351.00" y1="240.94" x2="354.20" y2="240.94" stroke="#444" stroke-width="0.8" />
<line x1="338.50" y1="293.95" x2="352.60" y2="266.86" stroke="#f5a030" stroke-width="1.1" />
<circle cx="338.5" cy="293.9" r="4.0" fill="#999" stroke="#222" stroke-width="1.2"/>
<circle cx="352.6" cy="266.9" r="4.2" fill="#ee0000" stroke="#111" stroke-width="1.3"/>
<text transform="translate(357.00,333.30) rotate(-25)" font-size="11" fill="#222" stroke="#222" stroke-width="0.18" text-anchor="end" font-style="italic">GJA1</text>
<line x1="381.40" y1="323.40" x2="381.40" y2="326.90" stroke="#555" stroke-width="0.9" />
<line x1="374.80" y1="289.53" x2="374.80" y2="297.48" stroke="#444" stroke-width="0.8" />
<line x1="373.20" y1="297.48" x2="376.40" y2="297.48" stroke="#444" stroke-width="0.8" />
<line x1="373.20" y1="289.53" x2="376.40" y2="289.53" stroke="#444" stroke-width="0.8" />
<line x1="388.90" y1="254.78" x2="388.90" y2="271.86" stroke="#444" stroke-width="0.8" />
<line x1="387.30" y1="271.86" x2="390.50" y2="271.86" stroke="#444" stroke-width="0.8" />
<line x1="387.30" y1="254.78" x2="390.50" y2="254.78" stroke="#444" stroke-width="0.8" />
<line x1="374.80" y1="293.95" x2="388.90" y2="263.62" stroke="#f5a030" stroke-width="1.1" />
<circle cx="374.8" cy="293.9" r="4.0" fill="#999" stroke="#222" stroke-width="1.2"/>
<circle cx="388.9" cy="263.6" r="4.2" fill="#ee0000" stroke="#111" stroke-width="1.3"/>
<line x1="374.80" y1="247.71" x2="389.20" y2="247.71" stroke="#777" stroke-width="1.2" />
<text x="388.90" y="257.21" font-size="11" fill="#222" stroke="#222" stroke-width="0.18" text-anchor="middle">*</text>
<text transform="translate(393.30,333.30) rotate(-25)" font-size="11" fill="#222" stroke="#222" stroke-width="0.18" text-anchor="end" font-style="italic">TCF3</text>
<line x1="417.70" y1="323.40" x2="417.70" y2="326.90" stroke="#555" stroke-width="0.9" />
<line x1="411.10" y1="287.18" x2="411.10" y2="301.31" stroke="#444" stroke-width="0.8" />
<line x1="409.50" y1="301.31" x2="412.70" y2="301.31" stroke="#444" stroke-width="0.8" />
<line x1="409.50" y1="287.18" x2="412.70" y2="287.18" stroke="#444" stroke-width="0.8" />
<line x1="425.20" y1="216.20" x2="425.20" y2="231.52" stroke="#444" stroke-width="0.8" />
<line x1="423.60" y1="231.52" x2="426.80" y2="231.52" stroke="#444" stroke-width="0.8" />
<line x1="423.60" y1="216.20" x2="426.80" y2="216.20" stroke="#444" stroke-width="0.8" />
<line x1="411.10" y1="293.95" x2="425.20" y2="223.27" stroke="#f5a030" stroke-width="1.1" />
<circle cx="411.1" cy="293.9" r="4.0" fill="#999" stroke="#222" stroke-width="1.2"/>
<circle cx="425.2" cy="223.3" r="4.2" fill="#ee0000" stroke="#111" stroke-width="1.3"/>
<line x1="411.10" y1="207.66" x2="425.50" y2="207.66" stroke="#777" stroke-width="1.2" />
<text x="425.20" y="217.16" font-size="11" fill="#222" stroke="#222" stroke-width="0.18" text-anchor="middle">*</text>
<text transform="translate(429.60,333.30) rotate(-25)" font-size="11" fill="#222" stroke="#222" stroke-width="0.18" text-anchor="end" font-style="italic">ZYX</text>
<line x1="454.00" y1="323.40" x2="454.00" y2="326.90" stroke="#555" stroke-width="0.9" />
<line x1="447.40" y1="288.06" x2="447.40" y2="301.31" stroke="#444" stroke-width="0.8" />
<line x1="445.80" y1="301.31" x2="449.00" y2="301.31" stroke="#444" stroke-width="0.8" />
<line x1="445.80" y1="288.06" x2="449.00" y2="288.06" stroke="#444" stroke-width="0.8" />
<line x1="461.50" y1="251.84" x2="461.50" y2="257.73" stroke="#444" stroke-width="0.8" />
<line x1="459.90" y1="257.73" x2="463.10" y2="257.73" stroke="#444" stroke-width="0.8" />
<line x1="459.90" y1="251.84" x2="463.10" y2="251.84" stroke="#444" stroke-width="0.8" />
<line x1="447.40" y1="293.95" x2="461.50" y2="254.78" stroke="#f5a030" stroke-width="1.1" />
<circle cx="447.4" cy="293.9" r="4.0" fill="#999" stroke="#222" stroke-width="1.2"/>
<circle cx="461.5" cy="254.8" r="4.2" fill="#ee0000" stroke="#111" stroke-width="1.3"/>
<line x1="447.40" y1="241.53" x2="461.80" y2="241.53" stroke="#777" stroke-width="1.2" />
<text x="461.50" y="251.03" font-size="11" fill="#222" stroke="#222" stroke-width="0.18" text-anchor="middle">*</text>
<text transform="translate(465.90,333.30) rotate(-25)" font-size="11" fill="#222" stroke="#222" stroke-width="0.18" text-anchor="end" font-style="italic">TUBA4A</text>
<line x1="490.30" y1="323.40" x2="490.30" y2="326.90" stroke="#555" stroke-width="0.9" />
<line x1="483.70" y1="284.23" x2="483.70" y2="304.26" stroke="#444" stroke-width="0.8" />
<line x1="482.10" y1="304.26" x2="485.30" y2="304.26" stroke="#444" stroke-width="0.8" />
<line x1="482.10" y1="284.23" x2="485.30" y2="284.23" stroke="#444" stroke-width="0.8" />
<line x1="497.80" y1="242.41" x2="497.80" y2="267.44" stroke="#444" stroke-width="0.8" />
<line x1="496.20" y1="267.44" x2="499.40" y2="267.44" stroke="#444" stroke-width="0.8" />
<line x1="496.20" y1="242.41" x2="499.40" y2="242.41" stroke="#444" stroke-width="0.8" />
<line x1="483.70" y1="293.95" x2="497.80" y2="254.78" stroke="#f5a030" stroke-width="1.1" />
<circle cx="483.7" cy="293.9" r="4.0" fill="#999" stroke="#222" stroke-width="1.2"/>
<circle cx="497.8" cy="254.8" r="4.2" fill="#ee0000" stroke="#111" stroke-width="1.3"/>
<line x1="483.70" y1="234.17" x2="498.10" y2="234.17" stroke="#777" stroke-width="1.2" />
<text x="497.80" y="243.67" font-size="11" fill="#222" stroke="#222" stroke-width="0.18" text-anchor="middle">*</text>
<text transform="translate(502.20,333.30) rotate(-25)" font-size="11" fill="#222" stroke="#222" stroke-width="0.18" text-anchor="end" font-style="italic">SEH1L</text>
<circle cx="471.5" cy="201.7" r="4.1" fill="#999" stroke="#222" stroke-width="1"/>
<circle cx="471.5" cy="216.1" r="4.1" fill="#ee0000" stroke="#222" stroke-width="1"/>
<text x="480.60" y="205.20" font-size="11.4" fill="#222" stroke="#222" stroke-width="0.18">KB-3-1</text>
<text x="480.60" y="219.40" font-size="11.4" fill="#222" stroke="#222" stroke-width="0.18">KB-8-5</text>
<rect x="80.7" y="382.2" width="76.8" height="115.8" fill="none" stroke="#111" stroke-width="1.15"/>
<line x1="76.10" y1="498.00" x2="80.70" y2="498.00" stroke="#111" stroke-width="1.05" />
<line x1="76.10" y1="485.02" x2="80.70" y2="485.02" stroke="#111" stroke-width="1.05" />
<line x1="76.10" y1="472.04" x2="80.70" y2="472.04" stroke="#111" stroke-width="1.05" />
<line x1="76.10" y1="459.06" x2="80.70" y2="459.06" stroke="#111" stroke-width="1.05" />
<line x1="76.10" y1="446.08" x2="80.70" y2="446.08" stroke="#111" stroke-width="1.05" />
<line x1="76.10" y1="433.10" x2="80.70" y2="433.10" stroke="#111" stroke-width="1.05" />
<line x1="76.10" y1="420.12" x2="80.70" y2="420.12" stroke="#111" stroke-width="1.05" />
<line x1="76.10" y1="407.14" x2="80.70" y2="407.14" stroke="#111" stroke-width="1.05" />
<line x1="76.10" y1="394.16" x2="80.70" y2="394.16" stroke="#111" stroke-width="1.05" />
<line x1="76.10" y1="381.18" x2="80.70" y2="381.18" stroke="#111" stroke-width="1.05" />
<line x1="96.10" y1="498.00" x2="96.10" y2="502.20" stroke="#111" stroke-width="1.05" />
<text x="94.70" y="514.00" font-size="10.9" fill="#222" stroke="#222" stroke-width="0.1" text-anchor="middle">0</text>
<line x1="119.30" y1="498.00" x2="119.30" y2="502.20" stroke="#111" stroke-width="1.05" />
<text x="119.30" y="514.00" font-size="10.9" fill="#222" stroke="#222" stroke-width="0.1" text-anchor="middle">6</text>
<line x1="142.30" y1="498.00" x2="142.30" y2="502.20" stroke="#111" stroke-width="1.05" />
<text x="142.00" y="514.00" font-size="10.9" fill="#222" stroke="#222" stroke-width="0.1" text-anchor="middle">48</text>
<text x="119.10" y="373.80" font-size="10.4" fill="#222" stroke="#222" stroke-width="0.1" text-anchor="middle" font-style="italic">GJA1</text>
<line x1="96.10" y1="399.30" x2="142.30" y2="399.30" stroke="#222" stroke-width="1.15" />
<text x="119.20" y="393.40" font-size="9.9" fill="#222" stroke="#222" stroke-width="0.1" text-anchor="middle">ns</text>
<line x1="96.10" y1="415.50" x2="119.30" y2="415.50" stroke="#222" stroke-width="1.15" />
<text x="107.70" y="410.10" font-size="9.9" fill="#222" stroke="#222" stroke-width="0.1" text-anchor="middle">ns</text>
<path d="M96.1 433.1 L119.3 448.0 L142.3 427.3" fill="none" stroke="#111" stroke-width="1.15" stroke-dasharray="2.6,2"/>
<line x1="96.10" y1="420.77" x2="96.10" y2="445.43" stroke="#222" stroke-width="1.25" />
<line x1="94.10" y1="445.43" x2="98.10" y2="445.43" stroke="#222" stroke-width="1.2" />
<line x1="94.10" y1="420.77" x2="98.10" y2="420.77" stroke="#222" stroke-width="1.2" />
<circle cx="96.1" cy="433.3" r="3.55" fill="#f28282" stroke="#c41616" stroke-width="1.2"/>
<line x1="119.30" y1="444.78" x2="119.30" y2="451.27" stroke="#222" stroke-width="1.25" />
<line x1="117.30" y1="451.27" x2="121.30" y2="451.27" stroke="#222" stroke-width="1.2" />
<line x1="117.30" y1="444.78" x2="121.30" y2="444.78" stroke="#222" stroke-width="1.2" />
<circle cx="119.3" cy="448.2" r="3.55" fill="#f28282" stroke="#c41616" stroke-width="1.2"/>
<line x1="142.30" y1="423.37" x2="142.30" y2="431.80" stroke="#222" stroke-width="1.25" />
<line x1="140.30" y1="431.80" x2="144.30" y2="431.80" stroke="#222" stroke-width="1.2" />
<line x1="140.30" y1="423.37" x2="144.30" y2="423.37" stroke="#222" stroke-width="1.2" />
<circle cx="142.3" cy="427.5" r="3.55" fill="#f28282" stroke="#c41616" stroke-width="1.2"/>
<rect x="172.3" y="382.2" width="76.8" height="115.8" fill="none" stroke="#111" stroke-width="1.15"/>
<line x1="167.70" y1="498.00" x2="172.30" y2="498.00" stroke="#111" stroke-width="1.05" />
<line x1="167.70" y1="485.02" x2="172.30" y2="485.02" stroke="#111" stroke-width="1.05" />
<line x1="167.70" y1="472.04" x2="172.30" y2="472.04" stroke="#111" stroke-width="1.05" />
<line x1="167.70" y1="459.06" x2="172.30" y2="459.06" stroke="#111" stroke-width="1.05" />
<line x1="167.70" y1="446.08" x2="172.30" y2="446.08" stroke="#111" stroke-width="1.05" />
<line x1="167.70" y1="433.10" x2="172.30" y2="433.10" stroke="#111" stroke-width="1.05" />
<line x1="167.70" y1="420.12" x2="172.30" y2="420.12" stroke="#111" stroke-width="1.05" />
<line x1="167.70" y1="407.14" x2="172.30" y2="407.14" stroke="#111" stroke-width="1.05" />
<line x1="167.70" y1="394.16" x2="172.30" y2="394.16" stroke="#111" stroke-width="1.05" />
<line x1="167.70" y1="381.18" x2="172.30" y2="381.18" stroke="#111" stroke-width="1.05" />
<line x1="187.70" y1="498.00" x2="187.70" y2="502.20" stroke="#111" stroke-width="1.05" />
<text x="186.30" y="514.00" font-size="10.9" fill="#222" stroke="#222" stroke-width="0.1" text-anchor="middle">0</text>
<line x1="210.90" y1="498.00" x2="210.90" y2="502.20" stroke="#111" stroke-width="1.05" />
<text x="210.90" y="514.00" font-size="10.9" fill="#222" stroke="#222" stroke-width="0.1" text-anchor="middle">6</text>
<line x1="233.90" y1="498.00" x2="233.90" y2="502.20" stroke="#111" stroke-width="1.05" />
<text x="233.60" y="514.00" font-size="10.9" fill="#222" stroke="#222" stroke-width="0.1" text-anchor="middle">48</text>
<text x="210.70" y="373.80" font-size="10.4" fill="#222" stroke="#222" stroke-width="0.1" text-anchor="middle" font-style="italic">SEH1L</text>
<line x1="187.70" y1="398.60" x2="233.90" y2="398.60" stroke="#222" stroke-width="1.15" />
<text x="210.80" y="392.70" font-size="9.9" fill="#222" stroke="#222" stroke-width="0.1" text-anchor="middle">ns</text>
<line x1="187.70" y1="415.80" x2="210.90" y2="415.80" stroke="#222" stroke-width="1.15" />
<text x="199.30" y="410.00" font-size="9.9" fill="#222" stroke="#222" stroke-width="0.1" text-anchor="middle">ns</text>
<path d="M187.7 433.1 L210.9 444.8 L233.9 443.5" fill="none" stroke="#111" stroke-width="1.15" stroke-dasharray="2.6,2"/>
<line x1="187.70" y1="427.91" x2="187.70" y2="438.29" stroke="#222" stroke-width="1.25" />
<line x1="185.70" y1="438.29" x2="189.70" y2="438.29" stroke="#222" stroke-width="1.2" />
<line x1="185.70" y1="427.91" x2="189.70" y2="427.91" stroke="#222" stroke-width="1.2" />
<circle cx="187.7" cy="433.3" r="3.55" fill="#f28282" stroke="#c41616" stroke-width="1.2"/>
<line x1="210.90" y1="431.15" x2="210.90" y2="458.41" stroke="#222" stroke-width="1.25" />
<line x1="208.90" y1="458.41" x2="212.90" y2="458.41" stroke="#222" stroke-width="1.2" />
<line x1="208.90" y1="431.15" x2="212.90" y2="431.15" stroke="#222" stroke-width="1.2" />
<circle cx="210.9" cy="445.0" r="3.55" fill="#f28282" stroke="#c41616" stroke-width="1.2"/>
<line x1="233.90" y1="436.99" x2="233.90" y2="449.32" stroke="#222" stroke-width="1.25" />
<line x1="231.90" y1="449.32" x2="235.90" y2="449.32" stroke="#222" stroke-width="1.2" />
<line x1="231.90" y1="436.99" x2="235.90" y2="436.99" stroke="#222" stroke-width="1.2" />
<circle cx="233.9" cy="443.7" r="3.55" fill="#f28282" stroke="#c41616" stroke-width="1.2"/>
<rect x="263.4" y="382.2" width="76.8" height="115.8" fill="none" stroke="#111" stroke-width="1.15"/>
<line x1="258.80" y1="498.00" x2="263.40" y2="498.00" stroke="#111" stroke-width="1.05" />
<line x1="258.80" y1="485.02" x2="263.40" y2="485.02" stroke="#111" stroke-width="1.05" />
<line x1="258.80" y1="472.04" x2="263.40" y2="472.04" stroke="#111" stroke-width="1.05" />
<line x1="258.80" y1="459.06" x2="263.40" y2="459.06" stroke="#111" stroke-width="1.05" />
<line x1="258.80" y1="446.08" x2="263.40" y2="446.08" stroke="#111" stroke-width="1.05" />
<line x1="258.80" y1="433.10" x2="263.40" y2="433.10" stroke="#111" stroke-width="1.05" />
<line x1="258.80" y1="420.12" x2="263.40" y2="420.12" stroke="#111" stroke-width="1.05" />
<line x1="258.80" y1="407.14" x2="263.40" y2="407.14" stroke="#111" stroke-width="1.05" />
<line x1="258.80" y1="394.16" x2="263.40" y2="394.16" stroke="#111" stroke-width="1.05" />
<line x1="258.80" y1="381.18" x2="263.40" y2="381.18" stroke="#111" stroke-width="1.05" />
<line x1="278.80" y1="498.00" x2="278.80" y2="502.20" stroke="#111" stroke-width="1.05" />
<text x="277.40" y="514.00" font-size="10.9" fill="#222" stroke="#222" stroke-width="0.1" text-anchor="middle">0</text>
<line x1="302.00" y1="498.00" x2="302.00" y2="502.20" stroke="#111" stroke-width="1.05" />
<text x="302.00" y="514.00" font-size="10.9" fill="#222" stroke="#222" stroke-width="0.1" text-anchor="middle">6</text>
<line x1="325.00" y1="498.00" x2="325.00" y2="502.20" stroke="#111" stroke-width="1.05" />
<text x="324.70" y="514.00" font-size="10.9" fill="#222" stroke="#222" stroke-width="0.1" text-anchor="middle">48</text>
<text x="301.80" y="373.80" font-size="10.4" fill="#222" stroke="#222" stroke-width="0.1" text-anchor="middle" font-style="italic">TCF3</text>
<line x1="278.80" y1="398.70" x2="325.00" y2="398.70" stroke="#222" stroke-width="1.15" />
<text x="301.90" y="393.30" font-size="9.9" fill="#222" stroke="#222" stroke-width="0.1" text-anchor="middle">ns</text>
<line x1="278.80" y1="415.60" x2="302.00" y2="415.60" stroke="#222" stroke-width="1.15" />
<text x="290.40" y="410.00" font-size="9.9" fill="#222" stroke="#222" stroke-width="0.1" text-anchor="middle">ns</text>
<path d="M278.8 433.1 L302.0 439.6 L325.0 416.2" fill="none" stroke="#111" stroke-width="1.15" stroke-dasharray="2.6,2"/>
<line x1="278.80" y1="421.42" x2="278.80" y2="445.43" stroke="#222" stroke-width="1.25" />
<line x1="276.80" y1="445.43" x2="280.80" y2="445.43" stroke="#222" stroke-width="1.2" />
<line x1="276.80" y1="421.42" x2="280.80" y2="421.42" stroke="#222" stroke-width="1.2" />
<circle cx="278.8" cy="433.3" r="3.55" fill="#f28282" stroke="#c41616" stroke-width="1.2"/>
<line x1="302.00" y1="431.15" x2="302.00" y2="448.03" stroke="#222" stroke-width="1.25" />
<line x1="300.00" y1="448.03" x2="304.00" y2="448.03" stroke="#222" stroke-width="1.2" />
<line x1="300.00" y1="431.15" x2="304.00" y2="431.15" stroke="#222" stroke-width="1.2" />
<circle cx="302.0" cy="439.8" r="3.55" fill="#f28282" stroke="#c41616" stroke-width="1.2"/>
<line x1="325.00" y1="405.19" x2="325.00" y2="427.26" stroke="#222" stroke-width="1.25" />
<line x1="323.00" y1="427.26" x2="327.00" y2="427.26" stroke="#222" stroke-width="1.2" />
<line x1="323.00" y1="405.19" x2="327.00" y2="405.19" stroke="#222" stroke-width="1.2" />
<circle cx="325.0" cy="416.4" r="3.55" fill="#f28282" stroke="#c41616" stroke-width="1.2"/>
<rect x="354.2" y="382.2" width="76.8" height="115.8" fill="none" stroke="#111" stroke-width="1.15"/>
<line x1="349.60" y1="498.00" x2="354.20" y2="498.00" stroke="#111" stroke-width="1.05" />
<line x1="349.60" y1="485.02" x2="354.20" y2="485.02" stroke="#111" stroke-width="1.05" />
<line x1="349.60" y1="472.04" x2="354.20" y2="472.04" stroke="#111" stroke-width="1.05" />
<line x1="349.60" y1="459.06" x2="354.20" y2="459.06" stroke="#111" stroke-width="1.05" />
<line x1="349.60" y1="446.08" x2="354.20" y2="446.08" stroke="#111" stroke-width="1.05" />
<line x1="349.60" y1="433.10" x2="354.20" y2="433.10" stroke="#111" stroke-width="1.05" />
<line x1="349.60" y1="420.12" x2="354.20" y2="420.12" stroke="#111" stroke-width="1.05" />
<line x1="349.60" y1="407.14" x2="354.20" y2="407.14" stroke="#111" stroke-width="1.05" />
<line x1="349.60" y1="394.16" x2="354.20" y2="394.16" stroke="#111" stroke-width="1.05" />
<line x1="349.60" y1="381.18" x2="354.20" y2="381.18" stroke="#111" stroke-width="1.05" />
<line x1="369.60" y1="498.00" x2="369.60" y2="502.20" stroke="#111" stroke-width="1.05" />
<text x="368.20" y="514.00" font-size="10.9" fill="#222" stroke="#222" stroke-width="0.1" text-anchor="middle">0</text>
<line x1="392.80" y1="498.00" x2="392.80" y2="502.20" stroke="#111" stroke-width="1.05" />
<text x="392.80" y="514.00" font-size="10.9" fill="#222" stroke="#222" stroke-width="0.1" text-anchor="middle">6</text>
<line x1="415.80" y1="498.00" x2="415.80" y2="502.20" stroke="#111" stroke-width="1.05" />
<text x="415.50" y="514.00" font-size="10.9" fill="#222" stroke="#222" stroke-width="0.1" text-anchor="middle">48</text>
<text x="392.60" y="373.80" font-size="10.4" fill="#222" stroke="#222" stroke-width="0.1" text-anchor="middle" font-style="italic">TUBA4A</text>
<line x1="369.60" y1="397.80" x2="415.80" y2="397.80" stroke="#222" stroke-width="1.15" />
<text x="392.70" y="392.50" font-size="9.9" fill="#222" stroke="#222" stroke-width="0.1" text-anchor="middle">ns</text>
<line x1="369.60" y1="413.50" x2="392.80" y2="413.50" stroke="#222" stroke-width="1.15" />
<text x="381.20" y="408.30" font-size="9.9" fill="#222" stroke="#222" stroke-width="0.1" text-anchor="middle">ns</text>
<path d="M369.6 433.1 L392.8 422.7 L415.8 422.7" fill="none" stroke="#111" stroke-width="1.15" stroke-dasharray="2.6,2"/>
<line x1="369.60" y1="427.91" x2="369.60" y2="438.29" stroke="#222" stroke-width="1.25" />
<line x1="367.60" y1="438.29" x2="371.60" y2="438.29" stroke="#222" stroke-width="1.2" />
<line x1="367.60" y1="427.91" x2="371.60" y2="427.91" stroke="#222" stroke-width="1.2" />
<circle cx="369.6" cy="433.3" r="3.55" fill="#f28282" stroke="#c41616" stroke-width="1.2"/>
<line x1="392.80" y1="418.82" x2="392.80" y2="427.26" stroke="#222" stroke-width="1.25" />
<line x1="390.80" y1="427.26" x2="394.80" y2="427.26" stroke="#222" stroke-width="1.2" />
<line x1="390.80" y1="418.82" x2="394.80" y2="418.82" stroke="#222" stroke-width="1.2" />
<circle cx="392.8" cy="422.9" r="3.55" fill="#f28282" stroke="#c41616" stroke-width="1.2"/>
<line x1="415.80" y1="418.17" x2="415.80" y2="427.26" stroke="#222" stroke-width="1.25" />
<line x1="413.80" y1="427.26" x2="417.80" y2="427.26" stroke="#222" stroke-width="1.2" />
<line x1="413.80" y1="418.17" x2="417.80" y2="418.17" stroke="#222" stroke-width="1.2" />
<circle cx="415.8" cy="422.9" r="3.55" fill="#f28282" stroke="#c41616" stroke-width="1.2"/>
<rect x="445.0" y="382.2" width="76.8" height="115.8" fill="none" stroke="#111" stroke-width="1.15"/>
<line x1="440.40" y1="498.00" x2="445.00" y2="498.00" stroke="#111" stroke-width="1.05" />
<line x1="440.40" y1="485.02" x2="445.00" y2="485.02" stroke="#111" stroke-width="1.05" />
<line x1="440.40" y1="472.04" x2="445.00" y2="472.04" stroke="#111" stroke-width="1.05" />
<line x1="440.40" y1="459.06" x2="445.00" y2="459.06" stroke="#111" stroke-width="1.05" />
<line x1="440.40" y1="446.08" x2="445.00" y2="446.08" stroke="#111" stroke-width="1.05" />
<line x1="440.40" y1="433.10" x2="445.00" y2="433.10" stroke="#111" stroke-width="1.05" />
<line x1="440.40" y1="420.12" x2="445.00" y2="420.12" stroke="#111" stroke-width="1.05" />
<line x1="440.40" y1="407.14" x2="445.00" y2="407.14" stroke="#111" stroke-width="1.05" />
<line x1="440.40" y1="394.16" x2="445.00" y2="394.16" stroke="#111" stroke-width="1.05" />
<line x1="440.40" y1="381.18" x2="445.00" y2="381.18" stroke="#111" stroke-width="1.05" />
<line x1="460.40" y1="498.00" x2="460.40" y2="502.20" stroke="#111" stroke-width="1.05" />
<text x="459.00" y="514.00" font-size="10.9" fill="#222" stroke="#222" stroke-width="0.1" text-anchor="middle">0</text>
<line x1="483.60" y1="498.00" x2="483.60" y2="502.20" stroke="#111" stroke-width="1.05" />
<text x="483.60" y="514.00" font-size="10.9" fill="#222" stroke="#222" stroke-width="0.1" text-anchor="middle">6</text>
<line x1="506.60" y1="498.00" x2="506.60" y2="502.20" stroke="#111" stroke-width="1.05" />
<text x="506.30" y="514.00" font-size="10.9" fill="#222" stroke="#222" stroke-width="0.1" text-anchor="middle">48</text>
<text x="483.40" y="373.80" font-size="10.4" fill="#222" stroke="#222" stroke-width="0.1" text-anchor="middle" font-style="italic">ZYX</text>
<line x1="460.40" y1="397.80" x2="506.60" y2="397.80" stroke="#222" stroke-width="1.15" />
<text x="483.50" y="392.70" font-size="9.9" fill="#222" stroke="#222" stroke-width="0.1" text-anchor="middle">ns</text>
<line x1="460.40" y1="413.50" x2="483.60" y2="413.50" stroke="#222" stroke-width="1.15" />
<text x="472.00" y="408.50" font-size="9.9" fill="#222" stroke="#222" stroke-width="0.1" text-anchor="middle">ns</text>
<path d="M460.4 433.1 L483.6 440.2 L506.6 442.2" fill="none" stroke="#111" stroke-width="1.15" stroke-dasharray="2.6,2"/>
<line x1="460.40" y1="422.07" x2="460.40" y2="444.13" stroke="#222" stroke-width="1.25" />
<line x1="458.40" y1="444.13" x2="462.40" y2="444.13" stroke="#222" stroke-width="1.2" />
<line x1="458.40" y1="422.07" x2="462.40" y2="422.07" stroke="#222" stroke-width="1.2" />
<circle cx="460.4" cy="433.3" r="3.55" fill="#f28282" stroke="#c41616" stroke-width="1.2"/>
<line x1="483.60" y1="438.29" x2="483.60" y2="442.19" stroke="#222" stroke-width="1.25" />
<line x1="481.60" y1="442.19" x2="485.60" y2="442.19" stroke="#222" stroke-width="1.2" />
<line x1="481.60" y1="438.29" x2="485.60" y2="438.29" stroke="#222" stroke-width="1.2" />
<circle cx="483.6" cy="440.4" r="3.55" fill="#f28282" stroke="#c41616" stroke-width="1.2"/>
<line x1="506.60" y1="435.05" x2="506.60" y2="449.97" stroke="#222" stroke-width="1.25" />
<line x1="504.60" y1="449.97" x2="508.60" y2="449.97" stroke="#222" stroke-width="1.2" />
<line x1="504.60" y1="435.05" x2="508.60" y2="435.05" stroke="#222" stroke-width="1.2" />
<circle cx="506.6" cy="442.4" r="3.55" fill="#f28282" stroke="#c41616" stroke-width="1.2"/>
<text x="74.50" y="501.80" font-size="10.6" fill="#222" stroke="#222" stroke-width="0.1" text-anchor="end">0.0</text>
<text x="74.50" y="488.82" font-size="10.6" fill="#222" stroke="#222" stroke-width="0.1" text-anchor="end">0.2</text>
<text x="74.50" y="475.84" font-size="10.6" fill="#222" stroke="#222" stroke-width="0.1" text-anchor="end">0.4</text>
<text x="74.50" y="462.86" font-size="10.6" fill="#222" stroke="#222" stroke-width="0.1" text-anchor="end">0.6</text>
<text x="74.50" y="449.88" font-size="10.6" fill="#222" stroke="#222" stroke-width="0.1" text-anchor="end">0.8</text>
<text x="74.50" y="436.90" font-size="10.6" fill="#222" stroke="#222" stroke-width="0.1" text-anchor="end">1.0</text>
<text x="74.50" y="423.92" font-size="10.6" fill="#222" stroke="#222" stroke-width="0.1" text-anchor="end">1.2</text>
<text x="74.50" y="410.94" font-size="10.6" fill="#222" stroke="#222" stroke-width="0.1" text-anchor="end">1.4</text>
<text x="74.50" y="397.96" font-size="10.6" fill="#222" stroke="#222" stroke-width="0.1" text-anchor="end">1.6</text>
<text x="74.50" y="384.98" font-size="10.6" fill="#222" stroke="#222" stroke-width="0.1" text-anchor="end">1.8</text>
<line x1="53.70" y1="517.60" x2="53.70" y2="412.00" stroke="#111" stroke-width="1.25" />
<path d="M53.7 403.8 L50.4 413.5 L57 413.5 Z" fill="#111"/>
<line x1="53.10" y1="517.60" x2="158.00" y2="517.60" stroke="#111" stroke-width="1.25" />
<path d="M167.4 517.6 L157.2 514.3 L157.2 520.9 Z" fill="#111"/>
<text transform="translate(48.00,463.80) rotate(-90)" font-size="12.2" fill="#222" stroke="#222" stroke-width="0.1" text-anchor="middle">Relative expression</text>
<text x="110.20" y="532.00" font-size="12.1" fill="#222" stroke="#222" stroke-width="0.1" text-anchor="middle">DOX incubation, h</text>
</svg></body></html>
